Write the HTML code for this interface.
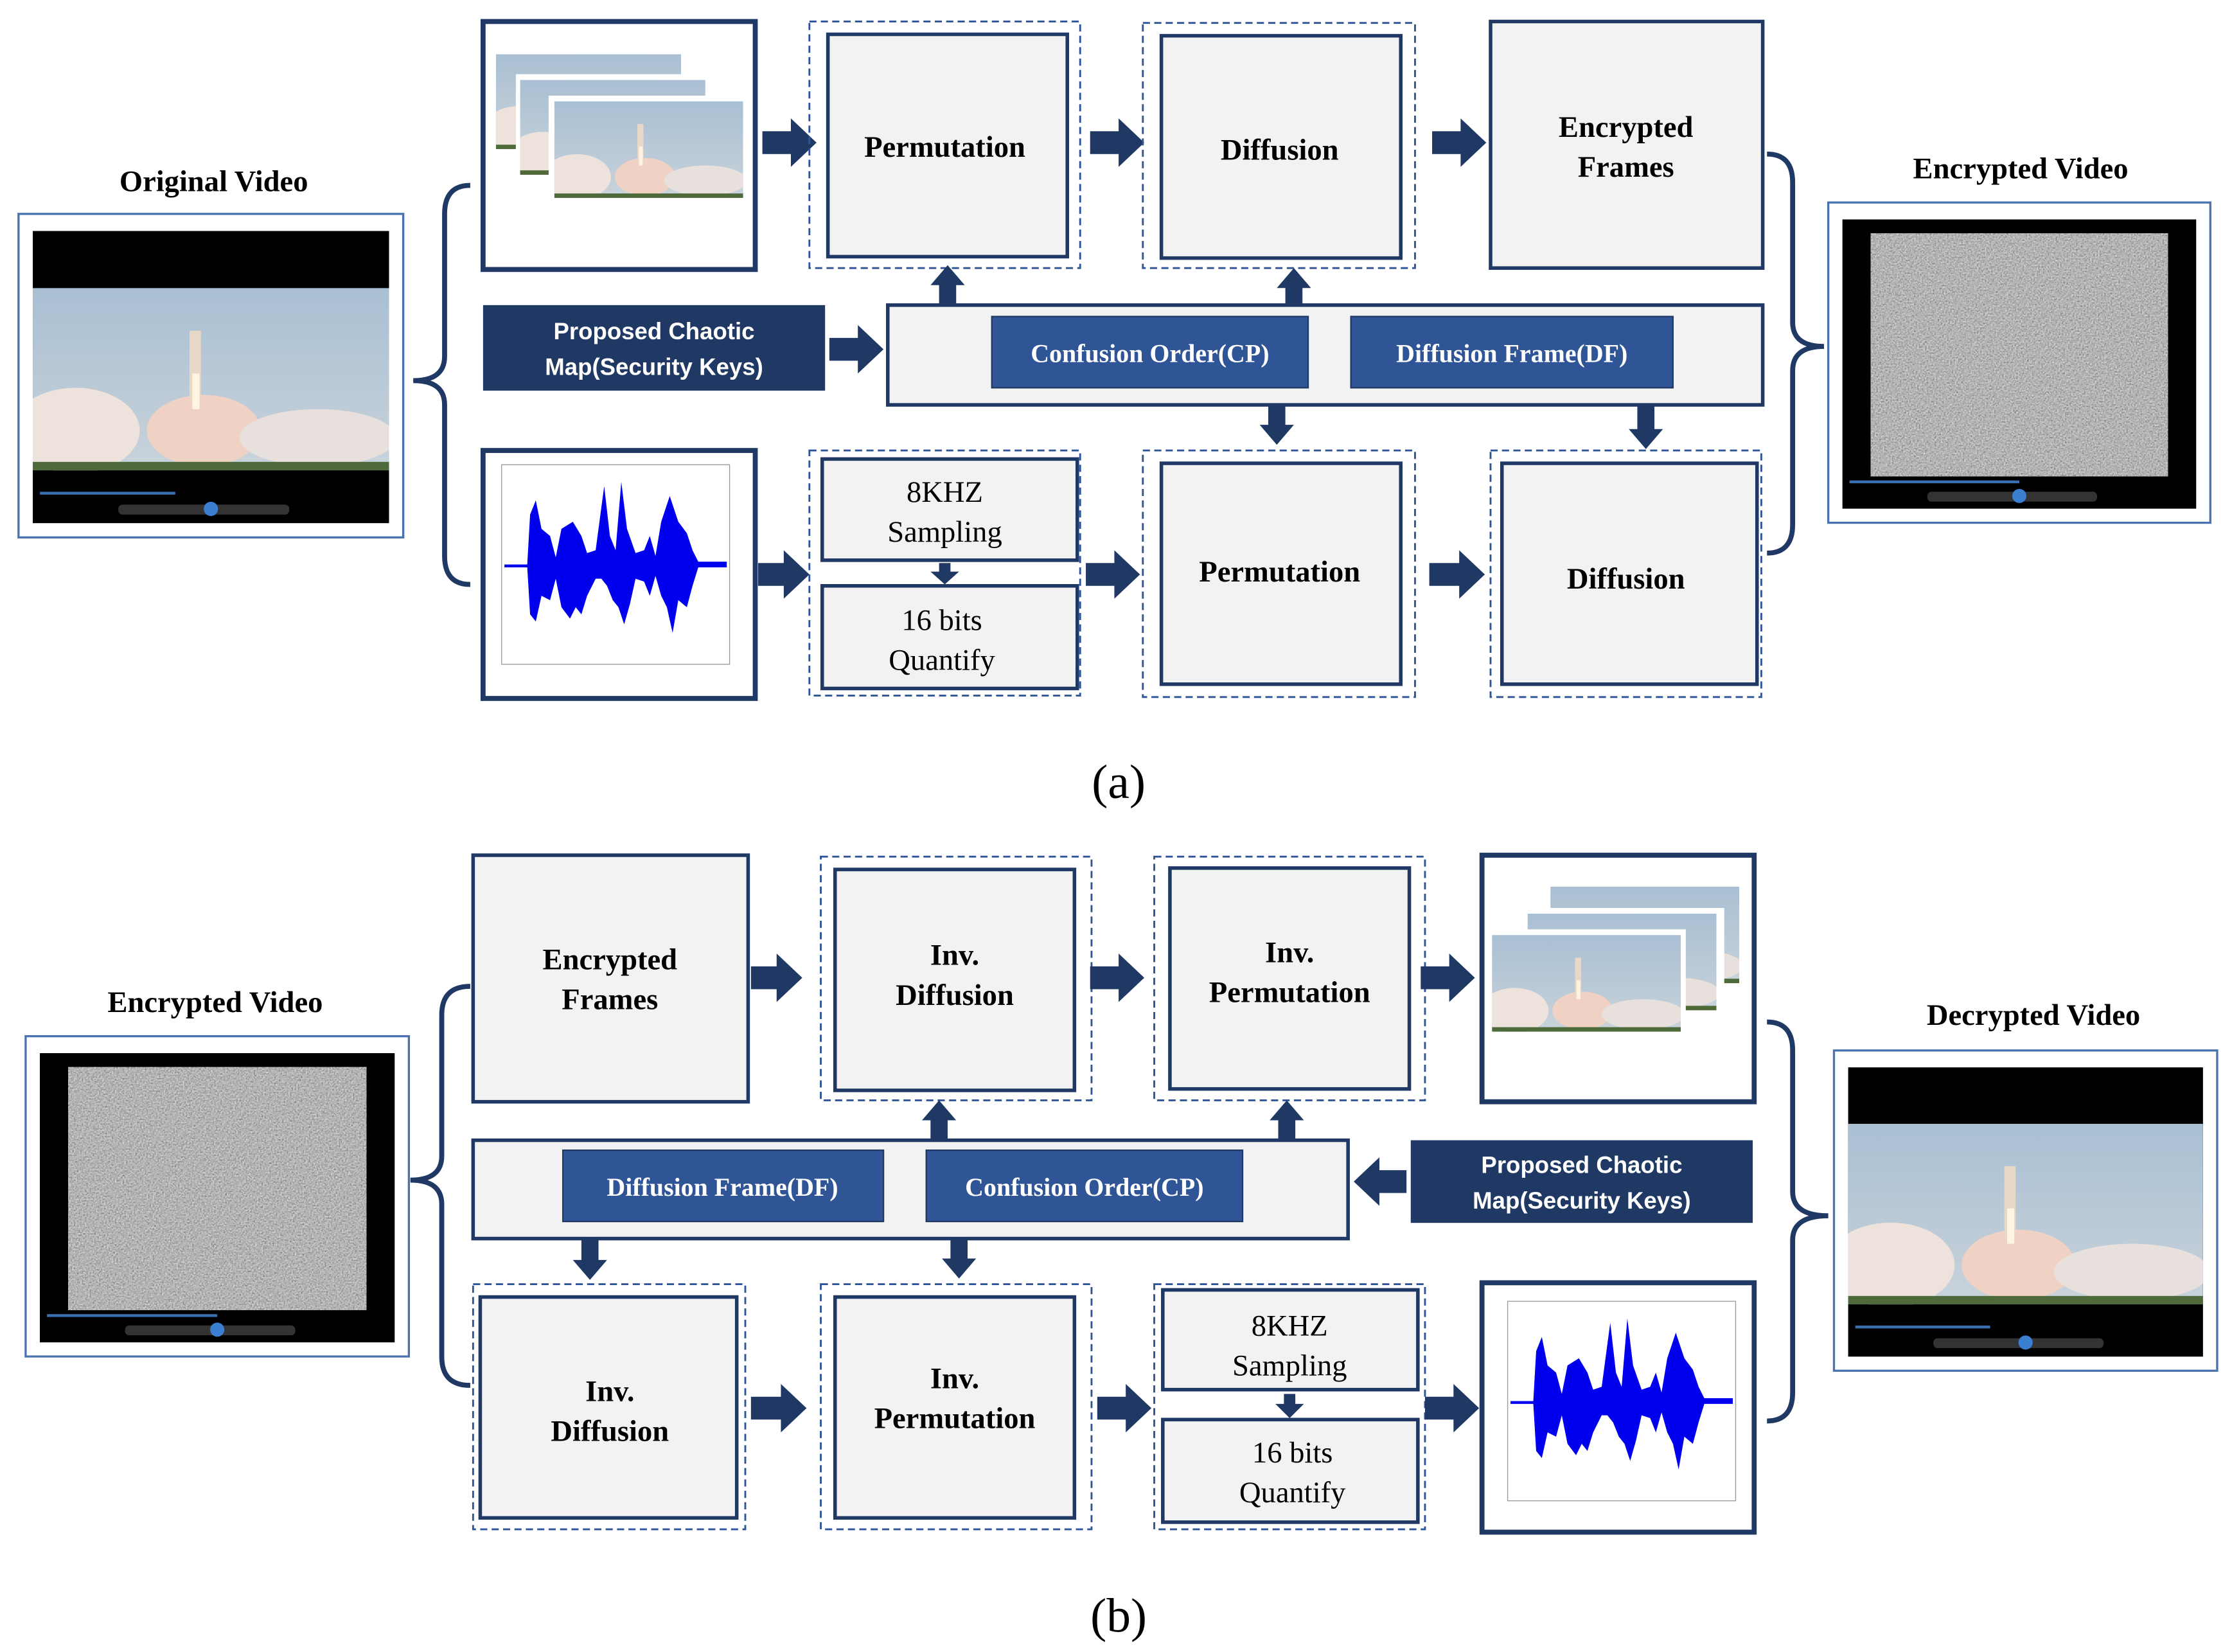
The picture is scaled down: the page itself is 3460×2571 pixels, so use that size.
<!DOCTYPE html>
<html><head><meta charset="utf-8"><style>
html,body{margin:0;padding:0;background:#fff;}
svg{display:block;}
.t{font-family:"Liberation Serif",serif;font-weight:bold;font-size:21px;fill:#000;text-anchor:middle;}
.n{font-family:"Liberation Serif",serif;font-size:21px;fill:#000;text-anchor:middle;}
.w{font-family:"Liberation Serif",serif;font-weight:bold;font-size:18px;fill:#fff;text-anchor:middle;}
.s{font-family:"Liberation Sans",sans-serif;font-weight:bold;font-size:16.5px;fill:#fff;text-anchor:middle;}
.h{font-family:"Liberation Serif",serif;font-weight:bold;font-size:21px;fill:#000;text-anchor:middle;}
.cap{font-family:"Liberation Serif",serif;font-size:34px;fill:#000;text-anchor:middle;}
.dash{fill:none;stroke:#2f5597;stroke-width:1.3;stroke-dasharray:5,3;}
.box{fill:#f2f2f2;stroke:#1f3864;stroke-width:2.5;}
.tb{fill:#fff;stroke:#1f3864;stroke-width:3.5;}
.ar{fill:#1f3864;}
.br{fill:none;stroke:#1f3864;stroke-width:3.5;}
</style></head><body>
<svg width="3460" height="2571" viewBox="0 0 1560 1159" xmlns="http://www.w3.org/2000/svg">
<defs>
<linearGradient id="sky" x1="0" y1="0" x2="0" y2="1"><stop offset="0" stop-color="#a9bfd3"/><stop offset="1" stop-color="#c9d3da"/></linearGradient>
<filter id="noise" x="0" y="0" width="1" height="1"><feTurbulence type="fractalNoise" baseFrequency="0.9" numOctaves="2"/><feColorMatrix type="matrix" values="0.5 0.5 0 0 -0.05  0.5 0.5 0 0 -0.05  0.5 0.5 0 0 -0.05  0 0 0 0 1"/></filter>
<clipPath id="pc"><rect x="0" y="0" width="250" height="128"/></clipPath>
<g id="pic" clip-path="url(#pc)">
<rect x="0" y="0" width="250" height="128" fill="url(#sky)"/>
<ellipse cx="30" cy="100" rx="45" ry="30" fill="#eee2dc"/>
<ellipse cx="120" cy="100" rx="40" ry="25" fill="#f0d2c4"/>
<ellipse cx="200" cy="105" rx="55" ry="20" fill="#e8e0dc"/>
<rect x="110" y="30" width="8" height="50" fill="#e8d8c8"/>
<rect x="112" y="60" width="5" height="25" fill="#fff4e0"/>
<rect x="0" y="122" width="250" height="6" fill="#4f6a3a"/>
</g>
<g id="vid">
<rect x="0" y="0" width="270" height="227" fill="#fff" stroke="#4a72b0" stroke-width="1.5"/>
<rect x="10" y="12" width="250" height="205" fill="#000"/>
<use href="#pic" transform="translate(10,52)"/>
<rect x="15" y="195" width="95" height="2" fill="#3a6fb0"/>
<rect x="70" y="204" width="120" height="7" rx="3" fill="#333"/>
<circle cx="135" cy="207" r="5" fill="#3a7fd0"/>
</g>
<g id="enc">
<rect x="0" y="0" width="270" height="227" fill="#fff" stroke="#4a72b0" stroke-width="1.5"/>
<rect x="10" y="12" width="250" height="205" fill="#000"/>
<rect x="30" y="22" width="210" height="172" fill="#888" filter="url(#noise)"/>
<rect x="15" y="197" width="120" height="2" fill="#3a6fb0"/>
<rect x="70" y="205" width="120" height="7" rx="3" fill="#333"/>
<circle cx="135" cy="208" r="5" fill="#3a7fd0"/>
</g>
<g id="wave">
<rect x="0" y="0" width="160" height="140" fill="#fff" stroke="#999" stroke-width="0.6"/>
<path d="M2,70 L18,70 L20,35 L24,25 L28,45 L34,50 L38,65 L42,45 L50,40 L56,50 L60,62 L66,60 L72,15 L76,50 L80,60 L84,12 L88,45 L94,62 L100,60 L104,50 L108,64 L112,40 L118,22 L124,40 L130,48 L134,60 L138,68 L158,68 L158,72 L138,72 L134,85 L130,100 L124,95 L120,118 L116,100 L112,92 L108,78 L104,92 L100,82 L94,80 L90,98 L86,112 L82,100 L78,95 L74,85 L70,80 L66,80 L60,92 L56,105 L52,100 L48,108 L42,100 L38,80 L34,95 L28,92 L24,110 L20,105 L18,72 L2,72 Z" fill="#0000ee"/>
</g>
</defs>

<!-- ===== (a) ===== -->
<text class="h" x="150" y="134">Original Video</text>
<use href="#vid" transform="translate(13,150)"/>
<path class="br" d="M330,130 Q312,130 312,150 L312,250 Q312,267 290,267 Q312,267 312,284 L312,390 Q312,410 330,410"/>

<rect class="tb" x="339" y="15" width="191" height="174"/>
<g transform="translate(348,38) scale(0.52)"><use href="#pic"/></g>
<rect x="362" y="52" width="136" height="90" fill="#fff"/>
<g transform="translate(365,56) scale(0.52)"><use href="#pic"/></g>
<rect x="385" y="67" width="140" height="96" fill="#fff"/>
<g transform="translate(389,71) scale(0.53)"><use href="#pic"/></g>

<polygon class="ar" points="535,92 555,92 555,83 573,100 555,117 555,108 535,108"/>
<rect class="dash" x="568" y="15" width="190" height="173"/>
<rect class="box" x="581" y="24" width="168" height="156"/>
<text class="t" x="663" y="110">Permutation</text>

<polygon class="ar" points="765,92 785,92 785,83 803,100 785,117 785,108 765,108"/>
<rect class="dash" x="802" y="16" width="191" height="172"/>
<rect class="box" x="815" y="25" width="168" height="156"/>
<text class="t" x="898" y="112">Diffusion</text>

<polygon class="ar" points="1005,92 1025,92 1025,83 1043,100 1025,117 1025,108 1005,108"/>
<rect class="box" x="1046" y="15" width="191" height="173"/>
<text class="t" x="1141" y="96">Encrypted</text>
<text class="t" x="1141" y="124">Frames</text>

<path class="br" d="M1240,108 Q1258,108 1258,128 L1258,226 Q1258,243 1280,243 Q1258,243 1258,260 L1258,368 Q1258,388 1240,388"/>
<text class="h" x="1418" y="125">Encrypted Video</text>
<use href="#enc" transform="translate(1283,142) scale(0.993,0.99)"/>

<rect x="339" y="214" width="240" height="60" fill="#1f3864"/>
<text class="s" x="459" y="238">Proposed Chaotic</text>
<text class="s" x="459" y="263">Map(Security Keys)</text>
<polygon class="ar" points="582,237 602,237 602,228 620,245 602,262 602,253 582,253"/>

<rect class="box" x="623" y="214" width="614" height="70" stroke-width="3.5"/>
<rect x="696" y="222" width="222" height="50" fill="#2f5597" stroke="#1f3864" stroke-width="1"/>
<text class="w" x="807" y="254">Confusion Order(CP)</text>
<rect x="948" y="222" width="226" height="50" fill="#2f5597" stroke="#1f3864" stroke-width="1"/>
<text class="w" x="1061" y="254">Diffusion Frame(DF)</text>

<polygon class="ar" points="659,214 659,200 653,200 665,186 677,200 671,200 671,214"/>
<polygon class="ar" points="902,214 902,202 896,202 908,188 920,202 914,202 914,214"/>
<polygon class="ar" points="890,284 890,298 884,298 896,312 908,298 902,298 902,284"/>
<polygon class="ar" points="1149,284 1149,301 1143,301 1155,315 1167,301 1161,301 1161,284"/>

<rect class="tb" x="339" y="316" width="191" height="174"/>
<g transform="translate(352,326)"><use href="#wave"/></g>
<polygon class="ar" points="532,395 550,395 550,386 568,403 550,420 550,411 532,411"/>
<rect class="dash" x="568" y="316" width="190" height="172"/>
<rect class="box" x="577" y="322" width="179" height="71"/>
<text class="n" x="663" y="352">8KHZ</text>
<text class="n" x="663" y="380">Sampling</text>
<polygon class="ar" points="659,395 659,401 653,401 663,410 673,401 667,401 667,395"/>
<rect class="box" x="577" y="411" width="179" height="72"/>
<text class="n" x="661" y="442">16 bits</text>
<text class="n" x="661" y="470">Quantify</text>

<polygon class="ar" points="762,395 782,395 782,386 800,403 782,420 782,411 762,411"/>
<rect class="dash" x="802" y="316" width="191" height="173"/>
<rect class="box" x="815" y="325" width="168" height="155"/>
<text class="t" x="898" y="408">Permutation</text>
<polygon class="ar" points="1003,395 1024,395 1024,386 1042,403 1024,420 1024,411 1003,411"/>
<rect class="dash" x="1046" y="316" width="190" height="173"/>
<rect class="box" x="1054" y="325" width="179" height="155"/>
<text class="t" x="1141" y="413">Diffusion</text>

<text class="cap" x="785" y="560">(a)</text>

<!-- ===== (b) ===== -->
<text class="h" x="151" y="710">Encrypted Video</text>
<use href="#enc" transform="translate(18,727) scale(0.996,0.99)"/>
<path class="br" d="M330,692 Q310,692 310,712 L310,811 Q310,828 288,828 Q310,828 310,845 L310,952 Q310,972 330,972"/>

<rect class="box" x="332" y="600" width="193" height="173" stroke-width="3.5"/>
<text class="t" x="428" y="680">Encrypted</text>
<text class="t" x="428" y="708">Frames</text>
<polygon class="ar" points="527,678 545,678 545,669 563,686 545,703 545,694 527,694"/>
<rect class="dash" x="576" y="601" width="190" height="171"/>
<rect class="box" x="586" y="610" width="168" height="155"/>
<text class="t" x="670" y="677">Inv.</text>
<text class="t" x="670" y="705">Diffusion</text>
<polygon class="ar" points="765,678 785,678 785,669 803,686 785,703 785,694 765,694"/>
<rect class="dash" x="810" y="601" width="190" height="171"/>
<rect class="box" x="821" y="609" width="168" height="155"/>
<text class="t" x="905" y="675">Inv.</text>
<text class="t" x="905" y="703">Permutation</text>
<polygon class="ar" points="997,678 1017,678 1017,669 1035,686 1017,703 1017,694 997,694"/>

<rect class="tb" x="1040" y="600" width="191" height="173"/>
<g transform="translate(1088,622) scale(0.53)"><use href="#pic"/></g>
<rect x="1068" y="637" width="142" height="94" fill="#fff"/>
<g transform="translate(1072,641) scale(0.53)"><use href="#pic"/></g>
<rect x="1043" y="652" width="140" height="96" fill="#fff"/>
<g transform="translate(1047,656) scale(0.53)"><use href="#pic"/></g>

<path class="br" d="M1240,717 Q1258,717 1258,737 L1258,836 Q1258,853 1283,853 Q1258,853 1258,870 L1258,977 Q1258,997 1240,997"/>
<text class="h" x="1427" y="719">Decrypted Video</text>
<use href="#vid" transform="translate(1287,737) scale(0.996,0.99)"/>

<rect class="box" x="332" y="800" width="614" height="69" stroke-width="3.5"/>
<rect x="395" y="807" width="225" height="50" fill="#2f5597" stroke="#1f3864" stroke-width="1"/>
<text class="w" x="507" y="839">Diffusion Frame(DF)</text>
<rect x="650" y="807" width="222" height="50" fill="#2f5597" stroke="#1f3864" stroke-width="1"/>
<text class="w" x="761" y="839">Confusion Order(CP)</text>
<rect x="990" y="800" width="240" height="58" fill="#1f3864"/>
<text class="s" x="1110" y="823">Proposed Chaotic</text>
<text class="s" x="1110" y="848">Map(Security Keys)</text>
<polygon class="ar" points="987,821 968,821 968,812 950,829 968,846 968,837 987,837"/>

<polygon class="ar" points="653,800 653,786 647,786 659,772 671,786 665,786 665,800"/>
<polygon class="ar" points="897,800 897,786 891,786 903,772 915,786 909,786 909,800"/>
<polygon class="ar" points="408,869 408,884 402,884 414,898 426,884 420,884 420,869"/>
<polygon class="ar" points="667,869 667,883 661,883 673,897 685,883 679,883 679,869"/>

<rect class="dash" x="332" y="901" width="191" height="172"/>
<rect class="box" x="337" y="910" width="180" height="155" stroke-width="3.5"/>
<text class="t" x="428" y="983">Inv.</text>
<text class="t" x="428" y="1011">Diffusion</text>
<polygon class="ar" points="527,980 548,980 548,971 566,988 548,1005 548,996 527,996"/>
<rect class="dash" x="576" y="901" width="190" height="172"/>
<rect class="box" x="586" y="910" width="168" height="155"/>
<text class="t" x="670" y="974">Inv.</text>
<text class="t" x="670" y="1002">Permutation</text>
<polygon class="ar" points="770,980 790,980 790,971 808,988 790,1005 790,996 770,996"/>
<rect class="dash" x="810" y="901" width="190" height="172"/>
<rect class="box" x="816" y="905" width="179" height="70"/>
<text class="n" x="905" y="937">8KHZ</text>
<text class="n" x="905" y="965">Sampling</text>
<polygon class="ar" points="901,978 901,985 895,985 905,995 915,985 909,985 909,978"/>
<rect class="box" x="816" y="996" width="179" height="72"/>
<text class="n" x="907" y="1026">16 bits</text>
<text class="n" x="907" y="1054">Quantify</text>
<polygon class="ar" points="1000,980 1020,980 1020,971 1038,988 1020,1005 1020,996 1000,996"/>
<rect class="tb" x="1040" y="900" width="191" height="175"/>
<g transform="translate(1058,913)"><use href="#wave"/></g>

<text class="cap" x="785" y="1145">(b)</text>
</svg>
</body></html>
